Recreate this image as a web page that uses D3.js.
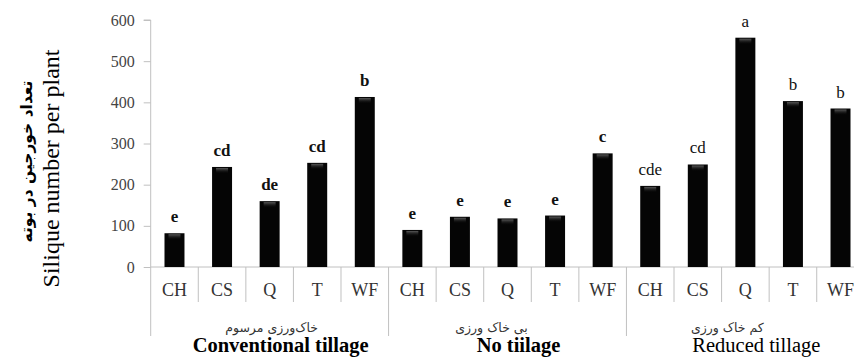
<!DOCTYPE html>
<html>
<head>
<meta charset="utf-8">
<script src="https://cdn.jsdelivr.net/npm/d3@7"></script>
<style>
  html, body { margin: 0; padding: 0; background: #fff; }
  svg { display: block; }
</style>
</head>
<body>
<svg id="chart" width="854" height="358"></svg>
<script>
// Silique number per plant under three tillage systems
const treatments = ["CH", "CS", "Q", "T", "WF"];
const tillageEn = ["Conventional tillage", "No tiilage", "Reduced tillage"];
const tillageFa = ["خاک‌ورزی مرسوم", "بی خاک ورزی", "کم خاک ورزی"];

const conventionalValues = [82, 243, 160, 253, 413];
const noTillageValues = [90, 122, 118, 125, 276];
const reducedValues = [197, 249, 557, 403, 385];

const conventionalLetters = ["e", "cd", "de", "cd", "b"];
const noTillageLetters = ["e", "e", "e", "e", "c"];
const reducedLetters = ["cde", "cd", "a", "b", "b"];

const yTicks = [0, 100, 200, 300, 400, 500, 600];

const seriesValues = [conventionalValues, noTillageValues, reducedValues];
const seriesLetters = [conventionalLetters, noTillageLetters, reducedLetters];

// one row per bar
const rows = [];
tillageEn.forEach((g, gi) => {
  treatments.forEach((t, ti) => {
    rows.push({ key: gi + "-" + t, group: gi, treatment: t,
                value: seriesValues[gi][ti], letter: seriesLetters[gi][ti] });
  });
});

// styling
const axisGray = "#c0c0c0";
const serif = "'Liberation Serif', 'Times New Roman', serif";
const boldGroup = [true, true, false];
const faOffset = [2, -16, -18];

const svg = d3.select("#chart");
const x0 = 150.7, x1 = 864.3, yBase = 267, yTop = 20;

const x = d3.scaleBand()
  .domain(rows.map(d => d.key))
  .range([x0, x1])
  .paddingInner(0.58)
  .paddingOuter(0.29);
const step = x.step();

const y = d3.scaleLinear().domain([0, 600]).range([yBase, yTop]);

// soft highlight along the top edge of each bar
const defs = svg.append("defs");
const grad = defs.append("linearGradient").attr("id", "barTop")
  .attr("x1", 0).attr("y1", 0).attr("x2", 0).attr("y2", 1);
grad.append("stop").attr("offset", "0%").attr("stop-color", "#5a5a5a");
grad.append("stop").attr("offset", "100%").attr("stop-color", "#000").attr("stop-opacity", 0);

// y axis
const yAxis = d3.axisLeft(y).tickValues(yTicks).tickSize(7).tickPadding(9);
const yg = svg.append("g").attr("transform", `translate(${x0},0)`).call(yAxis);
yg.attr("font-family", null).attr("font-size", null);
yg.select(".domain").attr("stroke", axisGray).attr("d", `M-7,${yTop}H0V${yBase}`);
yg.selectAll(".tick line").attr("stroke", axisGray);
yg.selectAll(".tick text")
  .style("font-family", serif).style("font-size", "16px").attr("fill", "#444");

// baseline
svg.append("line")
  .attr("x1", x0).attr("x2", x1).attr("y1", yBase).attr("y2", yBase)
  .attr("stroke", axisGray);

// category separators (long ones between tillage groups)
d3.range(rows.length + 1).forEach(i => {
  const xx = x0 + i * step;
  svg.append("line")
    .attr("x1", xx).attr("x2", xx)
    .attr("y1", yBase).attr("y2", i % treatments.length === 0 ? 336 : 302)
    .attr("stroke", axisGray);
});

// bars
const bars = svg.append("g");
bars.selectAll("rect.bar").data(rows).join("rect")
  .attr("class", "bar")
  .attr("x", d => x(d.key))
  .attr("y", d => y(d.value))
  .attr("width", x.bandwidth())
  .attr("height", d => yBase - y(d.value))
  .attr("fill", "#050505");
bars.selectAll("rect.hl").data(rows).join("rect")
  .attr("class", "hl")
  .attr("x", d => x(d.key) + 4)
  .attr("y", d => y(d.value) + 1)
  .attr("width", x.bandwidth() - 8)
  .attr("height", 6)
  .attr("fill", "url(#barTop)");

// significance letters
svg.append("g").selectAll("text").data(rows).join("text")
  .attr("x", d => x(d.key) + x.bandwidth() / 2)
  .attr("y", d => y(d.value) - 11)
  .attr("text-anchor", "middle")
  .style("font-family", serif)
  .style("font-size", "17px")
  .style("font-weight", d => boldGroup[d.group] ? "bold" : "normal")
  .attr("fill", "#111")
  .text(d => d.letter);

// treatment labels
svg.append("g").selectAll("text").data(rows).join("text")
  .attr("x", d => x(d.key) + x.bandwidth() / 2)
  .attr("y", 296)
  .attr("text-anchor", "middle")
  .style("font-family", serif)
  .style("font-size", "18px")
  .attr("fill", "#333")
  .text(d => d.treatment);

// tillage group labels
const groupCenter = gi => x0 + (gi * treatments.length + treatments.length / 2) * step;
svg.append("g").selectAll("text").data(tillageFa).join("text")
  .attr("x", (d, i) => groupCenter(i) + faOffset[i])
  .attr("y", 332)
  .attr("text-anchor", "middle")
  .attr("direction", "rtl")
  .style("font-family", "'DejaVu Sans', sans-serif")
  .style("font-size", "12.5px")
  .attr("fill", "#333")
  .text(d => d);
svg.append("g").selectAll("text").data(tillageEn).join("text")
  .attr("x", (d, i) => groupCenter(i) + 11)
  .attr("y", 352)
  .attr("text-anchor", "middle")
  .style("font-family", serif)
  .style("font-size", "20.5px")
  .style("font-weight", (d, i) => boldGroup[i] ? "bold" : "normal")
  .attr("fill", "#000")
  .text(d => d);

// y axis titles
svg.append("text")
  .attr("transform", "translate(59,168.5) rotate(-90)")
  .attr("text-anchor", "middle")
  .style("font-family", serif)
  .style("font-size", "24px")
  .attr("fill", "#000")
  .text("Silique number per plant");
svg.append("text")
  .attr("transform", "translate(32,161.5) rotate(-90)")
  .attr("text-anchor", "middle")
  .attr("direction", "rtl")
  .style("font-family", "'DejaVu Sans', sans-serif")
  .style("font-size", "15.5px")
  .style("font-weight", "bold")
  .attr("fill", "#000")
  .text("تعداد خورجین در بوته");
</script>
</body>
</html>
